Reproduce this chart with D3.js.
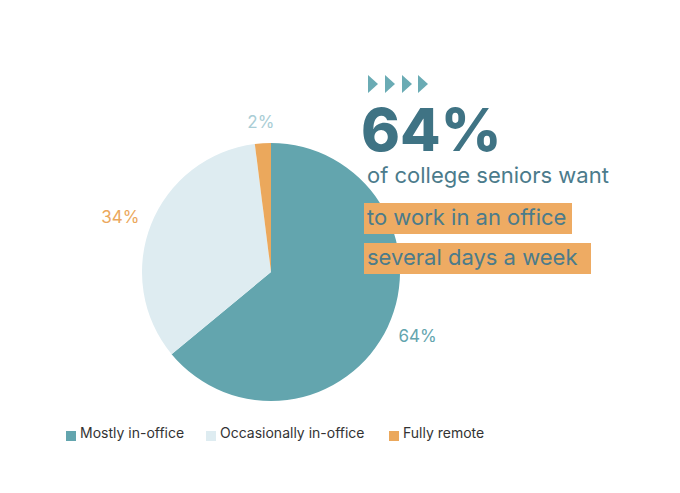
<!DOCTYPE html>
<html>
<head>
<meta charset="utf-8">
<script src="https://cdn.jsdelivr.net/npm/d3@7.9.0/dist/d3.min.js"></script>
<style>
  body { margin: 0; background: #fff; }
  svg { font-family: Inter, "Open Sans", sans-serif; }
</style>
</head>
<body>
<svg width="680" height="493"></svg>
<script>
const categories = ['Mostly in-office', 'Occasionally in-office', 'Fully remote'];
const values = [64, 34, 2];
const sliceColors = ['#63a5ae', '#deecf1', '#eba85c'];
const labelColors = ['#63a5ae', '#eba85c', '#a9cdd5'];

const svg = d3.select('svg');
const cx = 271, cy = 272, radius = 129;

const pie = d3.pie().sort(null).value(d => d);
const arcs = pie(values);
const arcGen = d3.arc().innerRadius(0).outerRadius(radius);
const labelArc = d3.arc().innerRadius(162).outerRadius(162);

const g = svg.append('g').attr('transform', `translate(${cx},${cy})`);
g.selectAll('path')
  .data(arcs)
  .join('path')
  .attr('d', arcGen)
  .attr('fill', (d, i) => sliceColors[i]);

// labels sit on a slightly flattened ring round the pie
g.selectAll('text.lbl')
  .data(arcs)
  .join('text')
  .attr('class', 'lbl')
  .attr('transform', d => {
    const [x, y] = labelArc.centroid(d);
    return `translate(${x},${y * 0.93})`;
  })
  .attr('text-anchor', 'middle')
  .attr('dominant-baseline', 'central')
  .attr('font-size', 17)
  .attr('fill', (d, i) => labelColors[i])
  .text(d => d.data + '%');

// callout on the right
const callout = svg.append('g');
const arrowX = [368, 385, 402, 418];
callout.selectAll('path.arrow')
  .data(arrowX)
  .join('path')
  .attr('class', 'arrow')
  .attr('d', x => `M${x},75 L${x + 10},84 L${x},93 Z`)
  .attr('fill', '#6aabb4');

callout.append('text')
  .attr('x', 361).attr('y', 151)
  .attr('font-size', 59).attr('font-weight', 800)
  .attr('fill', '#3f7384')
  .text(values[0] + '%');

callout.append('text')
  .attr('x', 367).attr('y', 183)
  .attr('font-size', 22)
  .attr('fill', '#4b7b8b')
  .text('of college seniors want');

const boxes = [
  { text: 'to work in an office', y: 203, w: 208 },
  { text: 'several days a week', y: 243, w: 227 }
];
boxes.forEach(b => {
  callout.append('rect')
    .attr('x', 364).attr('y', b.y)
    .attr('width', b.w).attr('height', 31)
    .attr('fill', '#eeab63');
  callout.append('text')
    .attr('x', 367).attr('y', b.y + 22)
    .attr('font-size', 22)
    .attr('fill', '#4b7b8b')
    .text(b.text);
});

// legend
const legendX = [66, 206, 389];
const legend = svg.append('g');
categories.forEach((c, i) => {
  legend.append('rect')
    .attr('x', legendX[i]).attr('y', 431)
    .attr('width', 10).attr('height', 10)
    .attr('fill', sliceColors[i]);
  legend.append('text')
    .attr('x', legendX[i] + 14).attr('y', 438)
    .attr('font-size', 14)
    .attr('fill', '#333')
    .text(c);
});
</script>
</body>
</html>
